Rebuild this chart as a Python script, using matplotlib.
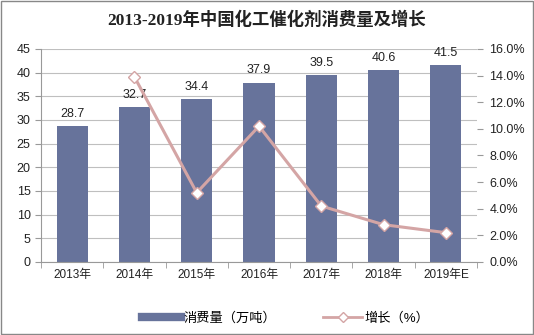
import matplotlib
matplotlib.use('Agg')
import matplotlib.pyplot as plt
from matplotlib.ticker import FuncFormatter, FixedLocator
from matplotlib.lines import Line2D

plt.rcParams['font.family'] = ['Liberation Sans', 'Noto Sans CJK SC', 'DejaVu Sans']

years = ['2013年', '2014年', '2015年', '2016年', '2017年', '2018年', '2019年E']
consumption = [28.7, 32.7, 34.4, 37.9, 39.5, 40.6, 41.5]
growth = [None, 13.9, 5.2, 10.2, 4.2, 2.8, 2.2]

bar_color = '#67739b'
line_color = '#d4a5a5'
grid_color = '#bfbfbf'

fig = plt.figure(figsize=(5.34, 3.35), dpi=100)
ax = fig.add_axes([0.0768, 0.218, 0.8165, 0.636])
x = list(range(len(years)))
ax.bar(x, consumption, width=0.5, color=bar_color, zorder=2)
for xi, v in zip(x, consumption):
    ax.text(xi, v + 1.3, '%.1f' % v, ha='center', va='bottom', fontsize=9, color='#222222', zorder=5)

ax.set_ylim(0, 45)
ax.set_yticks(range(0, 46, 5))
ax.set_xlim(-0.5, len(years) - 0.5)
ax.set_xticks(x)
ax.set_xticklabels(years)
ax.xaxis.set_minor_locator(FixedLocator([i - 0.5 for i in range(len(years) + 1)]))
ax.yaxis.grid(True, color=grid_color, lw=0.8, zorder=0)
ax.set_axisbelow(True)
for s in ['top', 'right']:
    ax.spines[s].set_visible(False)
ax.spines['left'].set_color('#999999')
ax.spines['bottom'].set_color('#999999')
ax.tick_params(axis='y', length=4, color='#999999', labelsize=9, labelcolor='#222222')
ax.tick_params(axis='x', which='major', length=0, labelsize=8.5, labelcolor='#222222', pad=5)
ax.tick_params(axis='x', which='minor', length=4, color='#999999')

ax2 = ax.twinx()
gx = [xi for xi, g in zip(x, growth) if g is not None]
gy = [g for g in growth if g is not None]
ax2.plot(gx, gy, color=line_color, lw=2.2, marker='D', markersize=6,
         markerfacecolor='white', markeredgecolor=line_color, markeredgewidth=1, zorder=4)
ax2.set_ylim(0, 16)
ax2.set_yticks(range(0, 17, 2))
ax2.yaxis.set_major_formatter(FuncFormatter(lambda v, p: '%.1f%%' % v))
for s in ['top', 'left', 'bottom', 'right']:
    ax2.spines[s].set_visible(False)
ax2.tick_params(axis='y', length=4, color='#999999', labelsize=9, labelcolor='#222222', pad=5)

fig.text(0.5, 0.94, '2013-2019年中国化工催化剂消费量及增长', ha='center', va='center',
         fontsize=12.5, fontweight='bold', color='#222222',
         family=['Liberation Serif', 'Noto Sans CJK SC'])

handles = [Line2D([0], [0], color=bar_color, lw=6),
           Line2D([0], [0], color=line_color, lw=2, marker='D', markersize=5,
                  markerfacecolor='white', markeredgecolor=line_color)]
fig.legend(handles, ['消费量（万吨）', '增长（%）'], loc='center', bbox_to_anchor=(0.535, 0.05),
           ncol=2, frameon=False, fontsize=9.5, handlelength=3, handletextpad=0.2,
           columnspacing=3.5)

fig.patches.append(plt.Rectangle((0.002, 0.003), 0.996, 0.994, transform=fig.transFigure,
                                 fill=False, edgecolor='#888888', lw=1))

fig.savefig('out.png', dpi=100)
